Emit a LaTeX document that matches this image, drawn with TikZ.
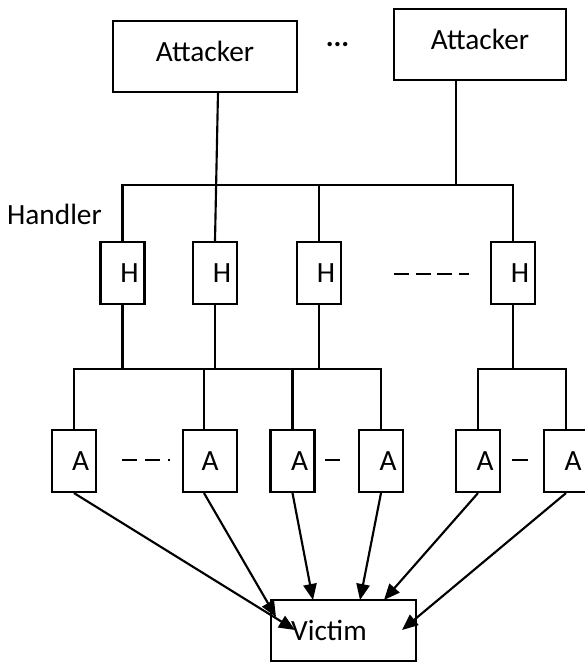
\documentclass[tikz,border=0pt]{standalone}
\usepackage{fontspec}
\setmainfont{Carlito}
\usetikzlibrary{arrows.meta}
\begin{document}
\begin{tikzpicture}[x=0.75pt,y=-0.75pt,
  every node/.style={font=\fontsize{22pt}{26pt}\selectfont},
  conn/.style={line width=1.6pt},
  box/.style={draw,line width=1.6pt,inner sep=0pt,rectangle},
  attbox/.style={box,minimum width=138pt,minimum height=53.25pt,text height=14.5pt,text depth=7.5pt},
  hbox/.style={box,minimum width=33pt,minimum height=46.5pt},
  arr/.style={line width=1.6pt,-{Triangle[length=12pt,width=10pt]}},
  gapdash/.style={line width=1.6pt,dash pattern=on 11.25pt off 4.9pt}]
\useasboundingbox (0,0) rectangle (585,664);

% attackers
\node[attbox] (att1) at (205,56.5) {Attacker};
\node[attbox,minimum width=129pt] (att2) at (480,44.5) {Attacker};
\node (dots) at (337.5,45) {\textbf{...}};

% handler label and boxes
\node (hl) at (54.5,214) {Handler};
\node[hbox] (h1) at (122.5,273) {\hspace*{10.5pt}H};
\node[hbox] (h2) at (215,273) {\hspace*{10.5pt}H};
\node[hbox] (h3) at (319,273) {\hspace*{10.5pt}H};
\node[hbox] (h4) at (513,273) {\hspace*{10.5pt}H};

% agent boxes
\node[hbox] (a1) at (74,461) {\hspace*{10pt}A};
\node[hbox,minimum width=40.5pt] (a2) at (210,461) {A};
\node[hbox] (a3) at (292.5,461) {\hspace*{10.5pt}A};
\node[hbox] (a4) at (381,461) {\hspace*{10.5pt}A};
\node[hbox] (a5) at (478,461) {\hspace*{10.5pt}A};
\node[hbox] (a6) at (566,461) {\hspace*{10.5pt}A};

% victim
\node[box,minimum width=108.75pt,minimum height=45.75pt] (v) at (343.5,630.5) {Victim\hspace*{21.75pt}};

% helper coordinates
\coordinate (b1) at (0,185);
\coordinate (b2) at (0,369);
\coordinate (o1) at (218,92);
\coordinate (o2) at (456,80);
\coordinate (a2t) at (204,430);
\coordinate (hd1) at (394,274);
\coordinate (hd2) at (469,274);
\coordinate (ad1) at (122,460);
\coordinate (ad2) at (170,460);
\coordinate (ad3) at (325,460);
\coordinate (ad4) at (340,460);
\coordinate (ad5) at (512,460);
\coordinate (ad6) at (528,460);
\coordinate (t1) at (295,630);
\coordinate (t2) at (276,617);
\coordinate (t3) at (313,600);
\coordinate (t4) at (360,600);
\coordinate (t5) at (384,600);
\coordinate (t6) at (402,630);

% attacker to handler bus
\draw[conn] (h1.north) |- (h4.north |- b1) -- (h4.north);
\draw[conn] (h3.north) -- (h3.north |- b1);
\draw[conn] (o1) -- (h2.north);
\draw[conn] (o2) -- (o2 |- b1);

% handler to agent buses
\draw[conn] (a1.north) |- (a4.north |- b2) -- (a4.north);
\draw[conn] (h1.south) -- (h1.south |- b2);
\draw[conn] (h2.south) -- (h2.south |- b2);
\draw[conn] (h3.south) -- (h3.south |- b2);
\draw[conn] (a2t) -- (a2t |- b2);
\draw[conn] (a3.north) -- (a3.north |- b2);
\draw[conn] (a5.north) |- (a6.north |- b2) -- (a6.north);
\draw[conn] (h4.south) -- (h4.south |- b2);

% ellipsis dashes
\draw[gapdash] (hd1) -- (hd2);
\draw[gapdash,dash pattern=on 11.25pt off 6pt] (ad1) -- (ad2);
\draw[conn] (ad3) -- (ad4);
\draw[conn] (ad5) -- (ad6);

% attacks on the victim
\draw[arr] (a1.south) -- (t1);
\draw[arr] (a2t |- a2.south) -- (t2);
\draw[arr] (a3.south) -- (t3);
\draw[arr] (a4.south) -- (t4);
\draw[arr] (a5.south) -- (t5);
\draw[arr] (a6.south) -- (t6);
\end{tikzpicture}
\end{document}
